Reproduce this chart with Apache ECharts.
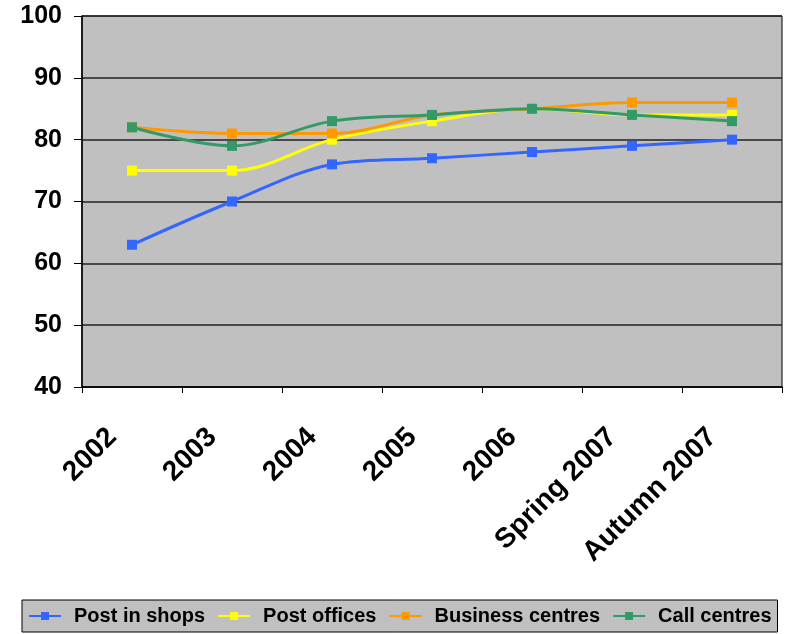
<!DOCTYPE html>
<html>
<head>
<meta charset="utf-8">
<script src="https://cdn.jsdelivr.net/npm/echarts@6/dist/echarts.min.js"></script>
<style>
  html, body { margin: 0; padding: 0; background: #fff; }
  #chart { width: 786px; height: 634px; }
</style>
</head>
<body>
<div id="chart"></div>
<script>
// Survey periods on the x axis
const categories = ['2002', '2003', '2004', '2005', '2006', 'Spring 2007', 'Autumn 2007'];

// Satisfaction scores per channel
const postInShops     = [63, 70, 76, 77, 78, 79, 80];
const postOffices     = [75, 75, 80, 83, 85, 84, 84];
const businessCentres = [82, 81, 81, 84, 85, 86, 86];
const callCentres     = [82, 79, 83, 84, 85, 84, 83];

// Value axis range
const yMin = 40, yMax = 100, yStep = 10;

const FONT = 'Liberation Sans, Arial, sans-serif';

function lineSeries(name, data, color) {
  return {
    name: name,
    type: 'line',
    data: data,
    smooth: 0.35,
    symbol: 'rect',
    symbolSize: 10,
    showSymbol: true,
    lineStyle: { color: color, width: 3 },
    itemStyle: { color: color },
    emphasis: { disabled: true }
  };
}

const chart = echarts.init(document.getElementById('chart'), null, { renderer: 'canvas' });
chart.setOption({
  animation: false,
  backgroundColor: '#ffffff',
  grid: {
    left: 82, right: 4, top: 16, bottom: 247,
    show: true,
    backgroundColor: '#c0c0c0',
    borderColor: '#000000',
    borderWidth: 1
  },
  xAxis: {
    type: 'category',
    data: categories,
    boundaryGap: true,
    axisLine: { lineStyle: { color: '#000', width: 1.5 } },
    axisTick: { show: true, alignWithLabel: false, length: 6, lineStyle: { color: '#000' } },
    axisLabel: {
      rotate: 45,
      interval: 0,
      margin: 26,
      padding: [0, 28, 0, 0],
      color: '#000',
      fontFamily: FONT,
      fontWeight: 'bold',
      fontSize: 28
    },
    splitLine: { show: false }
  },
  yAxis: {
    type: 'value',
    min: yMin,
    max: yMax,
    interval: yStep,
    axisLine: { show: true, lineStyle: { color: '#000', width: 1.5 } },
    axisTick: { show: true, length: 8, lineStyle: { color: '#000' } },
    axisLabel: {
      margin: 20,
      color: '#000',
      fontFamily: FONT,
      fontWeight: 'bold',
      fontSize: 25
    },
    splitLine: { show: true, lineStyle: { color: '#222', width: 1.5 } }
  },
  legend: {
    bottom: 2,
    left: 22,
    backgroundColor: '#c0c0c0',
    borderColor: '#000',
    borderWidth: 1,
    borderRadius: 0,
    padding: [6, 6, 6, 6],
    itemGap: 12,
    itemWidth: 32,
    itemHeight: 10,
    textStyle: {
      color: '#000',
      fontFamily: FONT,
      fontWeight: 'bold',
      fontSize: 20,
      padding: [0, 0, 0, 8]
    },
    data: ['Post in shops', 'Post offices', 'Business centres', 'Call centres']
  },
  series: [
    lineSeries('Post in shops', postInShops, '#3366ff'),
    lineSeries('Post offices', postOffices, '#ffff00'),
    lineSeries('Business centres', businessCentres, '#ff9900'),
    lineSeries('Call centres', callCentres, '#339966')
  ]
});
</script>
</body>
</html>
